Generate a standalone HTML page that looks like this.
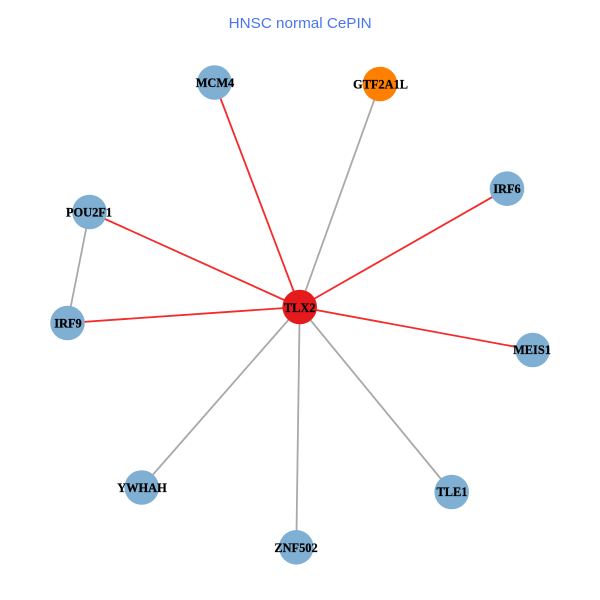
<!DOCTYPE html>
<html>
<head>
<meta charset="utf-8">
<style>
html,body{margin:0;padding:0;background:#fff;width:600px;height:600px;overflow:hidden}
svg{display:block}
.n{fill:#7FAFD2}
.l{font-family:"Liberation Serif",serif;font-weight:bold;font-size:12.4px;fill:#000;stroke:#000;stroke-width:.2;text-anchor:middle}
</style>
</head>
<body>
<svg width="600" height="600" viewBox="0 0 600 600" xmlns="http://www.w3.org/2000/svg">
<rect width="600" height="600" fill="#fff"/>
<text x="300.2" y="28" text-anchor="middle" textLength="143" lengthAdjust="spacingAndGlyphs" font-family="'Liberation Sans',sans-serif" font-size="15" fill="#4775F0">HNSC normal CePIN</text>
<g stroke-width="1.8" fill="none">
<g stroke="#A9A9A9">
<line x1="299.7" y1="307" x2="380" y2="84"/>
<line x1="299.7" y1="307" x2="141.7" y2="487.5"/>
<line x1="299.7" y1="307" x2="296.3" y2="547.3"/>
<line x1="299.7" y1="307" x2="451.7" y2="492"/>
<line x1="89.5" y1="212" x2="67.5" y2="323"/>
</g>
<g stroke="#F52A2A">
<line x1="299.7" y1="307" x2="214.5" y2="82.5"/>
<line x1="299.7" y1="307" x2="507" y2="188.7"/>
<line x1="299.7" y1="307" x2="532.7" y2="350"/>
<line x1="299.7" y1="307" x2="89.5" y2="212"/>
<line x1="299.7" y1="307" x2="67.5" y2="323"/>
</g>
</g>
<circle class="n" cx="214.5" cy="82.5" r="17.3"/>
<circle cx="380" cy="84" r="17.3" fill="#FF7F00"/>
<circle class="n" cx="507" cy="188.7" r="17.3"/>
<circle class="n" cx="89.5" cy="212" r="17.3"/>
<circle class="n" cx="67.5" cy="323" r="17.3"/>
<circle class="n" cx="532.7" cy="350" r="17.3"/>
<circle class="n" cx="141.7" cy="487.5" r="17.3"/>
<circle class="n" cx="451.7" cy="492" r="17.3"/>
<circle class="n" cx="296.3" cy="547.3" r="17.3"/>
<circle cx="299.7" cy="307" r="17.3" fill="#E41A1C"/>
<text class="l" x="215" y="87">MCM4</text>
<text class="l" x="380.5" y="88.5">GTF2A1L</text>
<text class="l" x="507" y="193">IRF6</text>
<text class="l" x="89" y="216.5">POU2F1</text>
<text class="l" x="68" y="327.5">IRF9</text>
<text class="l" x="532" y="354">MEIS1</text>
<text class="l" x="142" y="492">YWHAH</text>
<text class="l" x="452" y="496">TLE1</text>
<text class="l" x="296" y="552">ZNF502</text>
<text class="l" x="299.7" y="312">TLX2</text>
</svg>
</body>
</html>
